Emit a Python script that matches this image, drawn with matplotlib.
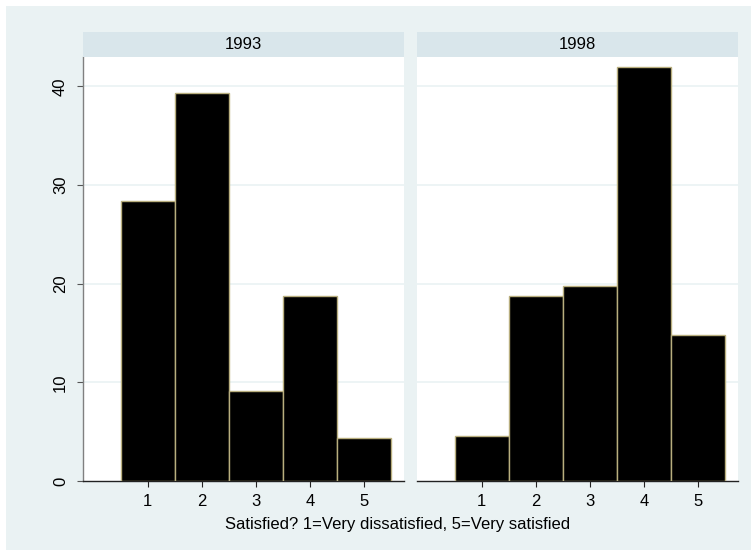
import matplotlib
matplotlib.use("Agg")
import matplotlib.pyplot as plt
from matplotlib.patches import Rectangle

plt.rcParams['font.family'] = ['Liberation Sans', 'DejaVu Sans']

categories = [1, 2, 3, 4, 5]
panels = ["1993", "1998"]
percent_1993 = [28.35, 39.3, 9.1, 18.7, 4.4]
percent_1998 = [4.6, 18.7, 19.8, 42.0, 14.8]
yticks = [0, 10, 20, 30, 40]
xlabel = "Satisfied? 1=Very dissatisfied, 5=Very satisfied"

W, H = 751, 550
BG = "#EAF2F3"
STRIP = "#D9E6EB"
GRID = "#EAF2F3"
EDGE = "#B8AE7E"

fig = plt.figure(figsize=(W / 100, H / 100), dpi=100)
fig.patch.set_facecolor("white")

bg = fig.add_axes([0, 0, 1, 1], zorder=-10)
bg.set_axis_off()
bg.set_xlim(0, W)
bg.set_ylim(H, 0)
bg.add_patch(Rectangle((6, 6), W - 6, H - 6, facecolor=BG, edgecolor="none"))

plot_top, plot_bot = 56.7, 481.0
strip_top = 32.0
lefts = [82.7, 416.7]
width = 321.2

for i, (name, vals) in enumerate(zip(panels, [percent_1993, percent_1998])):
    l = lefts[i]
    ax = fig.add_axes([l / W, (H - plot_bot) / H, width / W, (plot_bot - plot_top) / H])
    ax.set_facecolor("white")
    ax.bar(categories, vals, width=1.0, color="black", edgecolor=EDGE, linewidth=1.0, zorder=3)
    ax.set_xlim(-0.2, 5.73)
    ax.set_ylim(0, 43)
    ax.set_yticks(yticks)
    ax.set_xticks(categories)
    ax.set_xticklabels([str(c) for c in categories], fontsize=12)
    for y in yticks[1:]:
        ax.axhline(y, color=GRID, linewidth=1.2, zorder=1)
    for s in ["top", "right"]:
        ax.spines[s].set_visible(False)
    ax.spines["bottom"].set_color("#222222")
    ax.spines["bottom"].set_linewidth(1.0)
    ax.tick_params(axis="x", length=4.5, width=0.8, color="#222222", pad=5)
    if i == 0:
        ax.spines["left"].set_color("#808080")
        ax.spines["left"].set_linewidth(1.0)
        ax.set_yticklabels([str(t) for t in yticks], fontsize=12, rotation=90, va="center")
        ax.tick_params(axis="y", length=4.5, width=0.8, color="#555555", pad=6)
    else:
        ax.spines["left"].set_visible(False)
        ax.tick_params(axis="y", left=False, labelleft=False)

    sax = fig.add_axes([l / W, (H - plot_top) / H, width / W, (plot_top - strip_top) / H])
    sax.set_facecolor(STRIP)
    sax.set_xticks([])
    sax.set_yticks([])
    for s in sax.spines.values():
        s.set_visible(False)
    sax.text(0.5, 0.5, name, ha="center", va="center", fontsize=12, transform=sax.transAxes)

fig.text(398 / W, 1 - 524 / H, xlabel, ha="center", va="center", fontsize=12)

fig.savefig("out.png", dpi=100, facecolor=fig.get_facecolor())
